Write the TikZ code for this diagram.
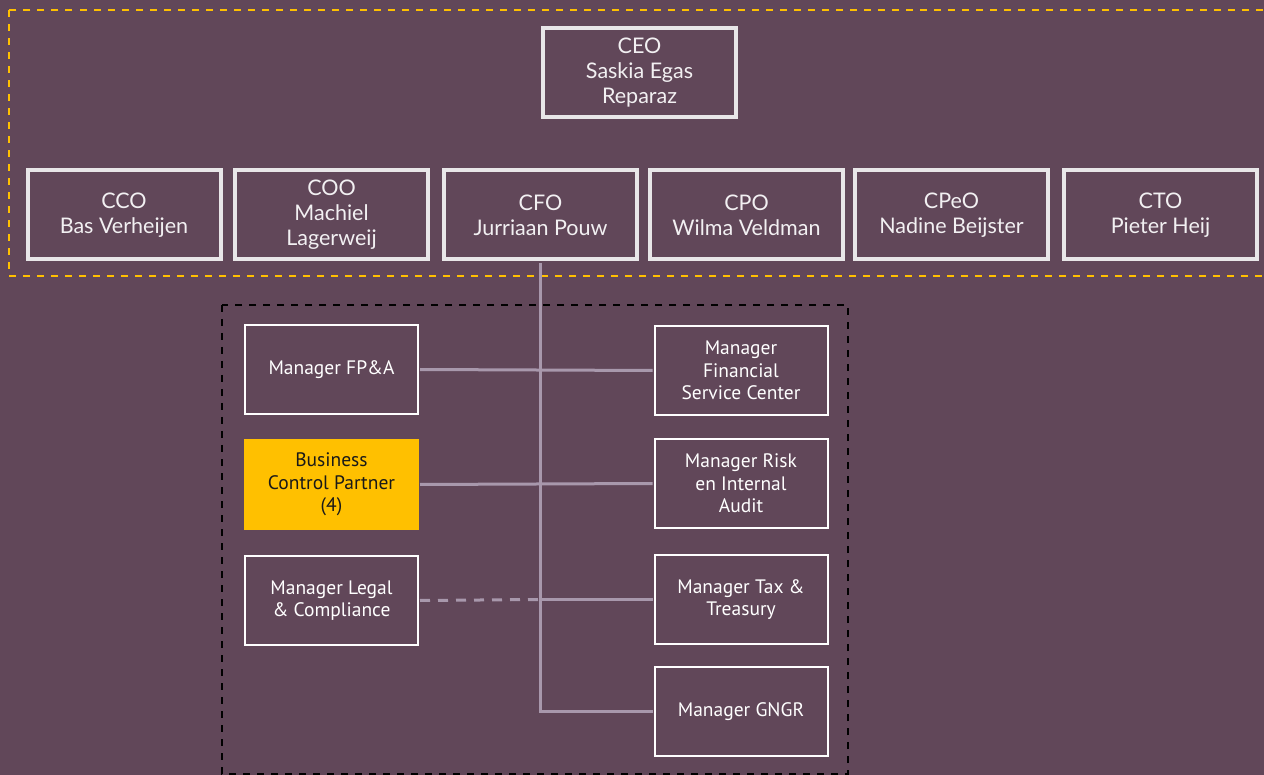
\documentclass[tikz,border=0pt]{standalone}
\usepackage{fontspec}
\setmainfont{Lato}
\newfontfamily\lowfont{PT Sans}
\definecolor{bgc}{HTML}{614759}
\definecolor{topedge}{HTML}{E8E6E8}
\definecolor{linec}{HTML}{A898AC}
\definecolor{ygold}{HTML}{FFC000}
\definecolor{txt}{HTML}{F2F0F2}
\tikzset{
  topbox/.style={draw=topedge, line width=4pt, minimum width=193pt, minimum height=89pt,
    align=center, text=txt, font=\fontsize{21.5pt}{25pt}\selectfont, inner sep=0pt},
  lowbox/.style={draw=white, line width=2pt, minimum width=173pt, minimum height=89pt,
    align=center, text=white, font=\lowfont\fontsize{19.5pt}{22.5pt}\selectfont, inner sep=0pt},
  goldbox/.style={lowbox, draw=ygold, fill=ygold, text=black!90},
  conn/.style={draw=linec, line width=3pt},
  dconn/.style={conn, dash pattern=on 10pt off 8pt},
}
\begin{document}
\begin{tikzpicture}[x=1pt,y=-1pt]
\useasboundingbox (0,0) rectangle (1264,775);
\fill[bgc] (0,0) rectangle (1264,775);
\clip (0,0) rectangle (1264,775);
% group frames
\draw[ygold, line width=2pt, dash pattern=on 7pt off 7pt] (8.5,10.5) rectangle (1280,276);
\draw[black, line width=2pt, dash pattern=on 7pt off 7pt] (222,305) rectangle (848,774);
% top
\node[topbox] (ceo) at (639.5,72.5) {CEO\\Saskia Egas\\Reparaz};
\node[topbox] (cco) at (124,215) {CCO\\Bas Verheijen};
\node[topbox] (coo) at (331.5,215) {COO\\Machiel\\Lagerweij};
\node[topbox] (cfo) at (540.5,215) {CFO\\Jurriaan Pouw};
\node[topbox] (cpo) at (746.5,215) {CPO\\Wilma Veldman};
\node[topbox] (cpeo) at (951.5,215) {CPeO\\Nadine Beijster};
\node[topbox] (cto) at (1160.5,215) {CTO\\Pieter Heij};
% lower
\node[lowbox] (fpa) at (331.5,369.5) {Manager FP\&A};
\node[goldbox] (bcp) at (331.5,484.5) {Business\\Control Partner\\(4)};
\node[lowbox] (legal) at (331.5,600.5) {Manager Legal\\\& Compliance};
\node[lowbox] (fsc) at (741,370.5) {Manager\\Financial\\Service Center};
\node[lowbox] (risk) at (741,483.5) {Manager Risk\\en Internal\\Audit};
\node[lowbox] (tax) at (741,599.5) {Manager Tax \&\\Treasury};
\node[lowbox] (gngr) at (741,711.5) {Manager GNGR};
% connectors
\coordinate (jt) at ([xshift=-0.5pt]cfo.south);
\coordinate (jl) at (jt |- tax.west);
\coordinate (jg) at (jt |- gngr.west);
\draw[conn] ([yshift=-2pt]jt) -- (jg) -- ([xshift=-1pt]gngr.west);
\draw[conn] ([xshift=1pt]fpa.east) -- ([xshift=-1pt]fsc.west);
\draw[conn] ([xshift=1pt]bcp.east) -- ([xshift=-1pt]risk.west);
\draw[dconn] ([xshift=1pt]legal.east) -- (jl);
\draw[conn] (jl) -- ([xshift=-1pt]tax.west);
\end{tikzpicture}
\end{document}
